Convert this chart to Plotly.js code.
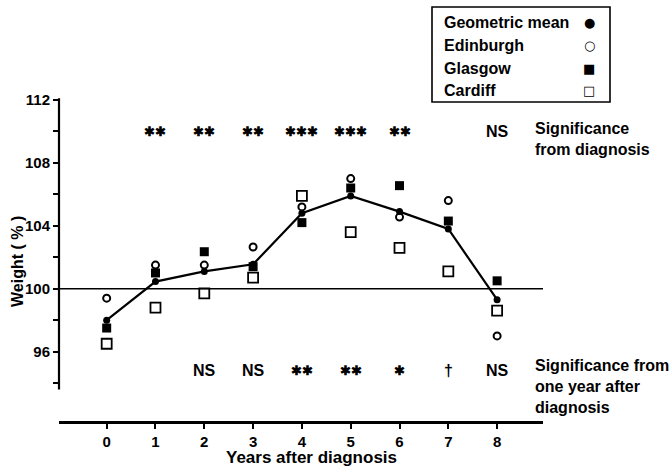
<!DOCTYPE html>
<html>
<head>
<meta charset="utf-8">
<script src="https://cdn.plot.ly/plotly-3.0.1.min.js"></script>
<style>html,body{margin:0;padding:0;background:#fff;}#chart{width:672px;height:467px;}</style>
</head>
<body>
<div id="chart"></div>
<script>
// ---- data ----
const years = [0, 1, 2, 3, 4, 5, 6, 7, 8];
const geometricMean = [98.0, 100.45, 101.1, 101.55, 104.8, 105.9, 104.9, 103.8, 99.3];
const edinburgh     = [99.4, 101.5, 101.5, 102.65, 105.2, 107.0, 104.55, 105.6, 97.0];
const glasgow       = [97.5, 101.0, 102.35, 101.4, 104.2, 106.4, 106.55, 104.3, 100.5];
const cardiff       = [96.5, 98.8, 99.7, 100.7, 105.9, 103.6, 102.6, 101.1, 98.6];
const sigFromDiagnosis = ["", "✱✱", "✱✱", "✱✱", "✱✱✱", "✱✱✱", "✱✱", "", "NS"];
const sigFromOneYear   = ["", "", "NS", "NS", "✱✱", "✱✱", "✱", "†", "NS"];
const yTickVals = [94, 96, 98, 100, 102, 104, 106, 108, 110, 112];
const yTickText = ["", "96", "", "100", "", "104", "", "108", "", "112"];
const legendNames = ["Geometric mean", "Edinburgh", "Glasgow", "Cardiff"];
const legendSymbols = ["●", "○", "■", "□"];

// ---- layout helpers (pixel -> paper) ----
const W = 672, H = 467, ML = 59, MR = 129, MT = 20, MB = 46;
const PW = W - ML - MR, PH = H - MT - MB;
const px = x => (x - ML) / PW;
const py = y => (H - MB - y) / PH;
const FONT = {family: "Liberation Sans, Arial, sans-serif", size: 16, color: "#000", weight: "bold"};
const TICKFONT = Object.assign({}, FONT, {size: 15});

const traces = [
  {x: years, y: cardiff, mode: "markers", name: "Cardiff",
   marker: {symbol: "square-open", size: 10, color: "#000", line: {width: 1.8, color: "#000"}}},
  {x: years, y: glasgow, mode: "markers", name: "Glasgow",
   marker: {symbol: "square", size: 9, color: "#000"}},
  {x: years, y: edinburgh, mode: "markers", name: "Edinburgh",
   marker: {symbol: "circle-open", size: 7, color: "#000", line: {width: 2, color: "#000"}}},
  {x: years, y: geometricMean, mode: "lines+markers", name: "Geometric mean",
   line: {color: "#000", width: 2.2}, marker: {symbol: "circle", size: 7, color: "#000"}}
];

const starFont = Object.assign({}, FONT, {size: 13});
const annotations = [];
years.forEach((yr, i) => {
  const a = sigFromDiagnosis[i], b = sigFromOneYear[i];
  if (a) annotations.push({x: yr, y: 110.0, xref: "x", yref: "y", text: a, yanchor: "middle",
    showarrow: false, font: a === "NS" ? FONT : starFont});
  if (b) annotations.push({x: yr, y: 94.83, xref: "x", yref: "y", text: b, yanchor: "middle",
    showarrow: false, font: (b === "NS" || b === "†") ? FONT : starFont});
});
annotations.push({x: px(533), y: py(139), xref: "paper", yref: "paper", xanchor: "left", yanchor: "middle", align: "left",
  text: "Significance<br>from diagnosis", showarrow: false, font: FONT});
annotations.push({x: px(533), y: py(386), xref: "paper", yref: "paper", xanchor: "left", yanchor: "middle", align: "left",
  text: "Significance from<br>one year after<br>diagnosis", showarrow: false, font: FONT});
annotations.push({x: px(311), y: py(458), xref: "paper", yref: "paper", xanchor: "center", yanchor: "middle",
  text: "Years after diagnosis", showarrow: false, font: Object.assign({}, FONT, {size: 17})});
annotations.push({x: px(17), y: py(262), xref: "paper", yref: "paper", xanchor: "center", yanchor: "middle",
  text: "Weight ( % )", textangle: -90, showarrow: false, font: FONT});
const legendRows = [23, 45, 68, 91];
legendNames.forEach((n, i) => {
  annotations.push({x: px(442), y: py(legendRows[i]), xref: "paper", yref: "paper", xanchor: "left", yanchor: "middle",
    text: n, showarrow: false, font: FONT});
  annotations.push({x: px(589), y: py(legendRows[i]), xref: "paper", yref: "paper", xanchor: "center", yanchor: "middle",
    text: legendSymbols[i], showarrow: false, font: {family: "DejaVu Sans", size: 13, color: "#000"}});
});

const shapes = [
  {type: "line", xref: "paper", yref: "y", x0: 0, x1: 0, y0: 93.6, y1: 112.1, line: {color: "#000", width: 2.2}},
  {type: "line", xref: "paper", yref: "y", x0: 0, x1: 1, y0: 100, y1: 100, line: {color: "#000", width: 1.6}},
  {type: "rect", xref: "paper", yref: "paper", x0: px(432), x1: px(610), y0: py(102), y1: py(7),
   line: {color: "#000", width: 1.6}}
];

const layout = {
  width: W, height: H,
  margin: {l: ML, r: MR, t: MT, b: MB, pad: 0},
  paper_bgcolor: "#fff", plot_bgcolor: "#fff",
  showlegend: false,
  font: FONT,
  xaxis: {range: [-0.977, 8.94], tickvals: years, ticktext: years.map(String),
    showline: true, linewidth: 2.5, linecolor: "#000", ticks: "outside", ticklen: 5, tickwidth: 2,
    tickcolor: "#000", showgrid: false, zeroline: false, tickfont: TICKFONT, ticklabelstandoff: 0},
  yaxis: {range: [91.59, 117.08], tickvals: yTickVals, ticktext: yTickText,
    showline: false, ticks: "outside", ticklen: 5, tickwidth: 2, tickcolor: "#000",
    showgrid: false, zeroline: false, tickfont: TICKFONT},
  annotations: annotations,
  shapes: shapes
};

Plotly.newPlot("chart", traces, layout, {displayModeBar: false, staticPlot: true});
</script>
</body>
</html>
